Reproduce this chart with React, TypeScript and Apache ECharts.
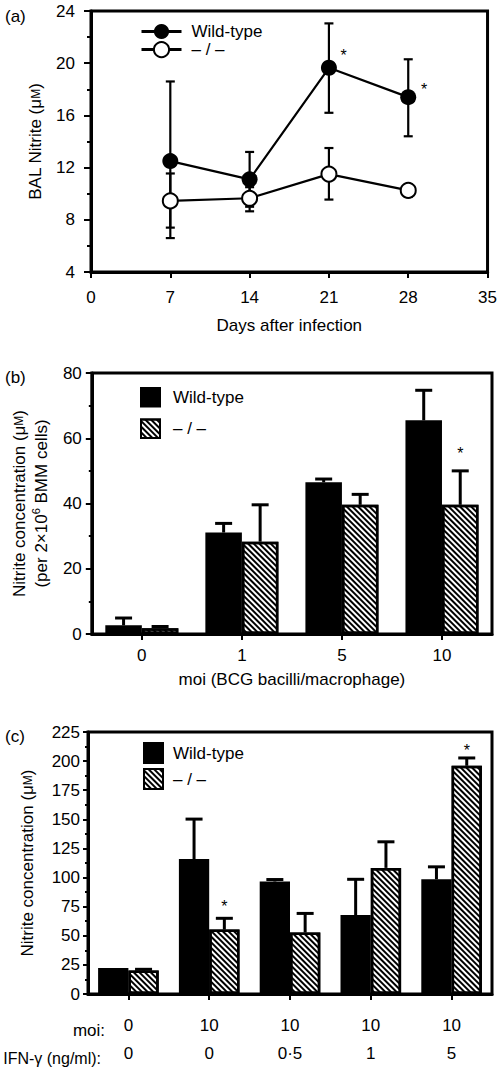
import React, { useEffect, useRef } from "react";
import * as echarts from "echarts";

const FONT = "'Liberation Sans', Arial, Helvetica, sans-serif";

// ---------- Panel (a) ----------
const daysA = [7, 14, 21, 28];
const wtA = [12.5, 11.1, 19.65, 17.4];
const wtALow = [6.6, 9.0, 16.2, 14.4];
const wtAHigh = [18.6, 13.2, 23.05, 20.3];
const koA = [9.45, 9.65, 11.5, 10.25];
const koALow = [7.4, 8.65, 9.55, 9.75];
const koAHigh = [11.55, 10.5, 13.5, 10.7];
const starsA = [
  [22.3, 20.6],
  [29.4, 18.0],
];

// ---------- Panel (b) ----------
const catsB = ["0", "1", "5", "10"];
const wtB = [2.65, 31.1, 46.5, 65.5];
const wtBErr = [4.9, 33.9, 47.5, 74.7];
const koB = [1.8, 28.3, 39.6, 39.6];
const koBErr = [2.3, 39.6, 42.8, 50.0];
const starsB = [[3, 55.3]];

// ---------- Panel (c) ----------
const moiC = ["0", "10", "10", "10", "10"];
const ifnC = ["0", "0", "0·5", "1", "5"];
const wtC = [22.3, 115.9, 96.6, 67.8, 98.5];
const wtCErr = [22.3, 150.2, 98.3, 98.5, 109.2];
const koC = [20.1, 55.3, 52.8, 108.3, 196];
const koCErr = [21.2, 65.0, 69.2, 130.7, 202.7];
const starsC = [
  [1, 74.8],
  [4, 209.4],
];

const WT_LABEL = "Wild-type";
const KO_LABEL = "– / –";
const legendNames: Record<string, string> = {
  wtA: WT_LABEL,
  koA: KO_LABEL,
  wtB: WT_LABEL,
  koB: KO_LABEL,
  wtC: WT_LABEL,
  koC: KO_LABEL,
};

const GAP_B = 0.27;
const GAP_C = 0.25;

const hatch = {
  symbol: "rect",
  symbolSize: 1,
  color: "#000",
  backgroundColor: "#fff",
  dashArrayX: [1, 0],
  dashArrayY: [1.7, 1.9],
  rotation: Math.PI / 4,
};

function barErrRender(side: number, gap: number) {
  return (params: any, api: any) => {
    const i = api.value(0);
    const v = api.value(1);
    const e = api.value(2);
    const top = api.coord([i, v]);
    const end = api.coord([i, e]);
    const catW = api.size([1, 0])[0];
    const bw = (catW * (1 - gap)) / 2;
    const x = top[0] + (side * bw) / 2;
    if (e - v < 0.3) return { type: "group", children: [] };
    const cap = 8.5;
    const st = { stroke: "#000", lineWidth: 3 };
    return {
      type: "group",
      children: [
        { type: "line", shape: { x1: x, y1: top[1], x2: x, y2: end[1] }, style: st },
        { type: "line", shape: { x1: x - cap, y1: end[1], x2: x + cap, y2: end[1] }, style: st },
      ],
    };
  };
}

function starRender(side: number, gap: number) {
  return (params: any, api: any) => {
    const i = api.value(0);
    const p = api.coord([i, api.value(1)]);
    const catW = api.size([1, 0])[0];
    const bw = (catW * (1 - gap)) / 2;
    const x = p[0] + (side * bw) / 2;
    return {
      type: "text",
      x,
      y: p[1],
      style: {
        text: "*",
        fontSize: 16,
        fontFamily: FONT,
        fill: "#000",
        align: "center",
        verticalAlign: "middle",
      },
    };
  };
}

function lineErrRender(params: any, api: any) {
  const x = api.value(0);
  const lo = api.coord([x, api.value(1)]);
  const hi = api.coord([x, api.value(2)]);
  const cap = 4.5;
  const st = { stroke: "#000", lineWidth: 2.2 };
  return {
    type: "group",
    children: [
      { type: "line", shape: { x1: lo[0], y1: lo[1], x2: hi[0], y2: hi[1] }, style: st },
      { type: "line", shape: { x1: lo[0] - cap, y1: lo[1], x2: lo[0] + cap, y2: lo[1] }, style: st },
      { type: "line", shape: { x1: hi[0] - cap, y1: hi[1], x2: hi[0] + cap, y2: hi[1] }, style: st },
    ],
  };
}

function pointStarRender(params: any, api: any) {
  const p = api.coord([api.value(0), api.value(1)]);
  return {
    type: "text",
    x: p[0],
    y: p[1],
    style: {
      text: "*",
      fontSize: 16,
      fontFamily: FONT,
      fill: "#000",
      align: "center",
      verticalAlign: "middle",
    },
  };
}

const axisLineStyle = { show: true, onZero: false, lineStyle: { color: "#000", width: 3 } };
const tickStyle = { lineStyle: { color: "#000", width: 2 } };
const labelStyle = { color: "#000", fontSize: 17, fontFamily: FONT };
const nameStyle = {
  color: "#000",
  fontSize: 17,
  fontFamily: FONT,
  rich: {
    s: { fontSize: 12, fontFamily: FONT, color: "#000" },
    sup: { fontSize: 11, fontFamily: FONT, color: "#000", verticalAlign: "top" },
  },
};

export default function App() {
  const ref = useRef<HTMLDivElement>(null);

  useEffect(() => {
    document.body.style.margin = "0";
    if (!ref.current) return;
    const chart = echarts.init(ref.current, undefined, { renderer: "svg" });

    const option: any = {
      animation: false,
      backgroundColor: "#fff",
      textStyle: { fontFamily: FONT, color: "#000" },
      grid: [
        { left: 91, top: 11, width: 401, height: 261, show: true, borderColor: "#000", borderWidth: 3 },
        { left: 88, top: 373, width: 404, height: 261, show: true, borderColor: "#000", borderWidth: 3 },
        { left: 88, top: 732, width: 404, height: 267, show: true, borderColor: "#000", borderWidth: 3 },
      ],
      xAxis: [
        {
          gridIndex: 0,
          type: "value",
          min: 0,
          max: 35,
          interval: 7,
          axisLine: axisLineStyle,
          axisTick: { show: true, length: 6, ...tickStyle },
          axisLabel: { ...labelStyle, margin: 17 },
          splitLine: { show: false },
          name: "Days after infection",
          nameLocation: "middle",
          nameGap: 45,
          nameTextStyle: nameStyle,
        },
        {
          gridIndex: 1,
          type: "category",
          data: catsB,
          axisLine: axisLineStyle,
          axisTick: { show: true, alignWithLabel: true, length: 6, ...tickStyle },
          axisLabel: { ...labelStyle, margin: 13 },
          splitLine: { show: false },
          name: "moi (BCG bacilli/macrophage)",
          nameLocation: "middle",
          nameGap: 37,
          nameTextStyle: nameStyle,
        },
        {
          gridIndex: 2,
          type: "category",
          data: moiC.map((m, i) => `${m}/${ifnC[i]}`),
          axisLine: axisLineStyle,
          axisTick: { show: true, alignWithLabel: true, length: 6, ...tickStyle },
          axisLabel: {
            ...labelStyle,
            margin: 17,
            lineHeight: 28,
            formatter: (_v: string, i: number) => `${moiC[i]}\n${ifnC[i]}`,
          },
          splitLine: { show: false },
        },
      ],
      yAxis: [
        {
          gridIndex: 0,
          type: "value",
          min: 4,
          max: 24,
          interval: 4,
          axisLine: axisLineStyle,
          axisTick: { show: true, length: 7, ...tickStyle },
          minorTick: { show: true, splitNumber: 2, length: 4, lineStyle: { color: "#000", width: 2 } },
          axisLabel: { ...labelStyle, margin: 16 },
          splitLine: { show: false },
          name: "BAL Nitrite (μ{s|M})",
          nameLocation: "middle",
          nameRotate: 90,
          nameGap: 47,
          nameTextStyle: nameStyle,
        },
        {
          gridIndex: 1,
          type: "value",
          min: 0,
          max: 80,
          interval: 20,
          axisLine: axisLineStyle,
          axisTick: { show: true, length: 6, ...tickStyle },
          minorTick: { show: true, splitNumber: 2, length: 3, lineStyle: { color: "#000", width: 2 } },
          axisLabel: { ...labelStyle, margin: 10 },
          splitLine: { show: false },
          name: "Nitrite concentration (μ{s|M})\n(per 2×10{sup|6} BMM cells)",
          nameLocation: "middle",
          nameRotate: 90,
          nameGap: 36,
          nameTextStyle: { ...nameStyle, lineHeight: 22 },
        },
        {
          gridIndex: 2,
          type: "value",
          min: 0,
          max: 225,
          interval: 25,
          axisLine: axisLineStyle,
          axisTick: { show: true, length: 5, ...tickStyle },
          minorTick: { show: true, splitNumber: 2, length: 3, lineStyle: { color: "#000", width: 2 } },
          axisLabel: { ...labelStyle, margin: 8 },
          splitLine: { show: false },
          name: "Nitrite concentration (μ{s|M})",
          nameLocation: "middle",
          nameRotate: 90,
          nameGap: 52,
          nameTextStyle: nameStyle,
        },
      ],
      legend: [
        {
          data: ["wtA", "koA"],
          orient: "vertical",
          left: 135,
          top: 18,
          itemWidth: 40,
          itemHeight: 19,
          itemGap: 1,
          lineStyle: { width: 3 },
          formatter: (n: string) => legendNames[n],
          textStyle: { ...labelStyle, padding: [0, 0, 0, 5] },
          selectedMode: false,
        },
        {
          data: ["wtB", "koB"],
          orient: "vertical",
          left: 135,
          top: 382,
          icon: "rect",
          itemWidth: 19,
          itemHeight: 18.5,
          itemGap: 11,
          formatter: (n: string) => legendNames[n],
          textStyle: { ...labelStyle, padding: [0, 0, 0, 8] },
          selectedMode: false,
        },
        {
          data: ["wtC", "koC"],
          orient: "vertical",
          left: 138,
          top: 737,
          icon: "rect",
          itemWidth: 19,
          itemHeight: 20,
          itemGap: 4,
          formatter: (n: string) => legendNames[n],
          textStyle: { ...labelStyle, padding: [0, 0, 0, 5] },
          selectedMode: false,
        },
      ],
      series: [
        // ----- (a) -----
        {
          type: "custom",
          name: "errA_wt",
          xAxisIndex: 0,
          yAxisIndex: 0,
          renderItem: lineErrRender,
          data: daysA.map((d, i) => [d, wtALow[i], wtAHigh[i]]),
          z: 1,
          silent: true,
        },
        {
          type: "custom",
          name: "errA_ko",
          xAxisIndex: 0,
          yAxisIndex: 0,
          renderItem: lineErrRender,
          data: daysA.map((d, i) => [d, koALow[i], koAHigh[i]]),
          z: 1,
          silent: true,
        },
        {
          type: "line",
          name: "wtA",
          xAxisIndex: 0,
          yAxisIndex: 0,
          data: daysA.map((d, i) => [d, wtA[i]]),
          symbol: "circle",
          symbolSize: 16,
          itemStyle: { color: "#000" },
          lineStyle: { color: "#000", width: 2.2 },
          z: 3,
        },
        {
          type: "line",
          name: "koA",
          xAxisIndex: 0,
          yAxisIndex: 0,
          data: daysA.map((d, i) => [d, koA[i]]),
          symbol: "emptyCircle",
          symbolSize: 15,
          showAllSymbol: true,
          itemStyle: { color: "#000", borderWidth: 2.5 },
          lineStyle: { color: "#000", width: 2.2 },
          z: 3,
        },
        {
          type: "custom",
          name: "starsA",
          xAxisIndex: 0,
          yAxisIndex: 0,
          renderItem: pointStarRender,
          data: starsA,
          z: 4,
          silent: true,
        },
        // ----- (b) -----
        {
          type: "bar",
          name: "wtB",
          xAxisIndex: 1,
          yAxisIndex: 1,
          data: wtB,
          barGap: "0%",
          barCategoryGap: `${GAP_B * 100}%`,
          itemStyle: { color: "#000", borderColor: "#000", borderWidth: 2.5 },
          z: 2,
        },
        {
          type: "bar",
          name: "koB",
          xAxisIndex: 1,
          yAxisIndex: 1,
          data: koB,
          barGap: "0%",
          barCategoryGap: `${GAP_B * 100}%`,
          itemStyle: { color: "#fff", borderColor: "#000", borderWidth: 2.5, decal: hatch },
          z: 2,
        },
        {
          type: "custom",
          name: "errB_wt",
          xAxisIndex: 1,
          yAxisIndex: 1,
          renderItem: barErrRender(-1, GAP_B),
          data: wtB.map((v, i) => [i, v, wtBErr[i]]),
          z: 3,
          silent: true,
        },
        {
          type: "custom",
          name: "errB_ko",
          xAxisIndex: 1,
          yAxisIndex: 1,
          renderItem: barErrRender(1, GAP_B),
          data: koB.map((v, i) => [i, v, koBErr[i]]),
          z: 3,
          silent: true,
        },
        {
          type: "custom",
          name: "starsB",
          xAxisIndex: 1,
          yAxisIndex: 1,
          renderItem: starRender(1, GAP_B),
          data: starsB,
          z: 4,
          silent: true,
        },
        // ----- (c) -----
        {
          type: "bar",
          name: "wtC",
          xAxisIndex: 2,
          yAxisIndex: 2,
          data: wtC,
          barGap: "0%",
          barCategoryGap: `${GAP_C * 100}%`,
          itemStyle: { color: "#000", borderColor: "#000", borderWidth: 2.5 },
          z: 2,
        },
        {
          type: "bar",
          name: "koC",
          xAxisIndex: 2,
          yAxisIndex: 2,
          data: koC,
          barGap: "0%",
          barCategoryGap: `${GAP_C * 100}%`,
          itemStyle: { color: "#fff", borderColor: "#000", borderWidth: 2.5, decal: hatch },
          z: 2,
        },
        {
          type: "custom",
          name: "errC_wt",
          xAxisIndex: 2,
          yAxisIndex: 2,
          renderItem: barErrRender(-1, GAP_C),
          data: wtC.map((v, i) => [i, v, wtCErr[i]]),
          z: 3,
          silent: true,
        },
        {
          type: "custom",
          name: "errC_ko",
          xAxisIndex: 2,
          yAxisIndex: 2,
          renderItem: barErrRender(1, GAP_C),
          data: koC.map((v, i) => [i, v, koCErr[i]]),
          z: 3,
          silent: true,
        },
        {
          type: "custom",
          name: "starsC",
          xAxisIndex: 2,
          yAxisIndex: 2,
          renderItem: starRender(1, GAP_C),
          data: starsC,
          z: 4,
          silent: true,
        },
      ],
      graphic: [
        { type: "text", left: 5, top: 8, style: { text: "(a)", fontSize: 17, fontFamily: FONT, fill: "#000" } },
        { type: "text", left: 5, top: 369, style: { text: "(b)", fontSize: 17, fontFamily: FONT, fill: "#000" } },
        { type: "text", left: 5, top: 728, style: { text: "(c)", fontSize: 17, fontFamily: FONT, fill: "#000" } },
        {
          type: "text",
          x: 105,
          y: 1030,
          style: { text: "moi:", fontSize: 17, fontFamily: FONT, fill: "#000", align: "right", verticalAlign: "middle" },
        },
        {
          type: "text",
          x: 101,
          y: 1058,
          style: {
            text: "IFN-γ (ng/ml):",
            fontSize: 16,
            fontFamily: FONT,
            fill: "#000",
            align: "right",
            verticalAlign: "middle",
          },
        },
      ],
    };

    chart.setOption(option);
    return () => chart.dispose();
  }, []);

  return <div ref={ref} style={{ width: 500, height: 1067 }} />;
}
